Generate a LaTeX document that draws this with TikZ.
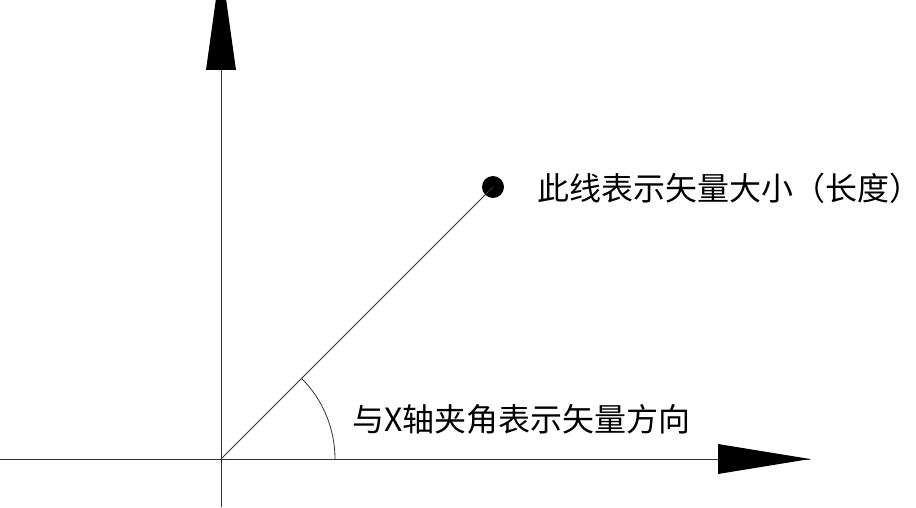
\documentclass[tikz,border=0pt]{standalone}
\usepackage{fontspec}
\newfontfamily\cjk{Noto Sans CJK SC}
\usetikzlibrary{arrows.meta}
\begin{document}
\begin{tikzpicture}[x=1pt, y=1pt, line join=round, line cap=round, font=\cjk\fontsize{32}{36}\selectfont, >={Triangle[length=92pt,width=30pt]}]
	\def\r{114} \pgfmathsetmacro\dai{272*sqrt(2)}
	\useasboundingbox (-221,-48) rectangle (695,459);
	\path (0,0) coordinate (O)
		(-221,0) coordinate (X1) (589,0) coordinate (X2)
		(0,-48) coordinate (Y1) (0,496) coordinate (Y2)
		(0:\r) coordinate (A) (45:\r) coordinate (B);
	\node[circle, fill=black, inner sep=0pt, minimum size=22pt] (P) at (45:\dai) {};
	\draw[line width=0.8pt, black!80] (X1)--(X2) (Y1)--(Y2);
	\fill (X2) ++(-92,15)--(X2)--++(-92,-15)--cycle;
	\fill (Y2) ++(-15,-107)--(Y2)--++(15,-107)--cycle;
	\draw[line width=0.8pt, black!80] (O)--(P.center)
		(A) arc (0:45:\r);
	\node[anchor=west, inner sep=0pt] (dai) at (316,271) {此线表示矢量大小（长度）};
	\node[anchor=west, inner sep=0pt] (huong) at (131,40) {与X轴夹角表示矢量方向};
\end{tikzpicture}
\end{document}
